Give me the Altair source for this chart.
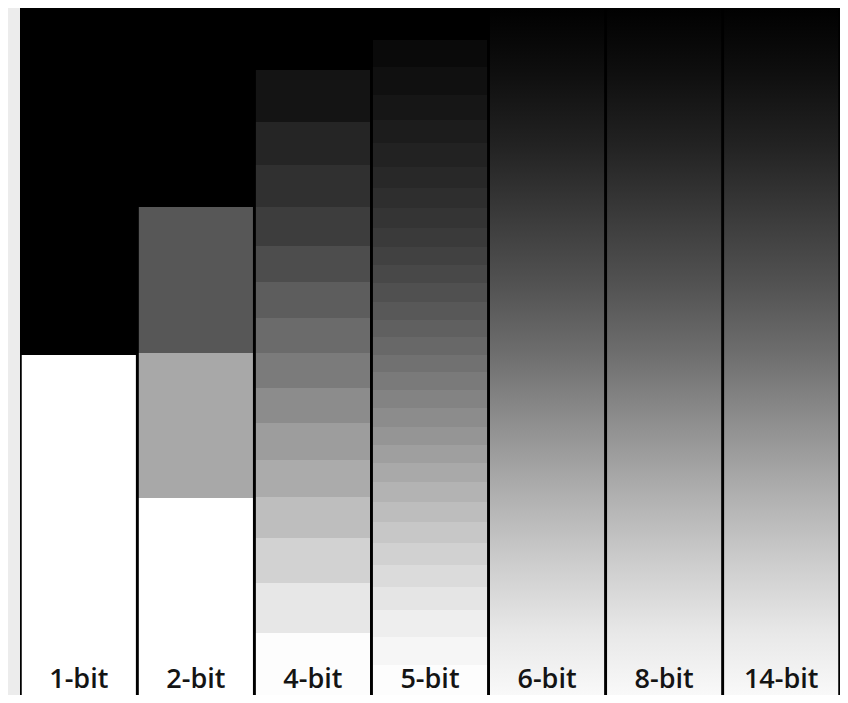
import altair as alt
import pandas as pd

# Column labels (left to right)
COLUMNS = ["1-bit", "2-bit", "4-bit", "5-bit", "6-bit", "8-bit", "14-bit"]

# Vertical extent of the tone ramp (reference pixel rows, top = black, bottom = white)
TOP, BOTTOM = 5, 703

# Quantised columns: band edges (top→bottom) and the grey of each band
BIT1_EDGES = [5, 355, 703]
BIT1_GRAYS = ["#000000", "#ffffff"]

BIT2_EDGES = [5, 207, 353, 498, 703]
BIT2_GRAYS = ["#000000", "#575757", "#a8a8a8", "#ffffff"]

BIT4_EDGES = [5, 70, 122, 165, 207, 246, 282, 318, 353, 388, 423, 460, 497, 538, 583, 633, 703]
BIT4_GRAYS = ["#000000", "#141414", "#252525", "#303030", "#3d3d3d", "#4d4d4d", "#5d5d5d",
              "#6b6b6b", "#7b7b7b", "#8c8c8c", "#9d9d9d", "#ababab", "#bebebe", "#d2d2d2",
              "#e7e7e7", "#fdfdfd"]

BIT5_EDGES = [5, 40, 67, 95, 120, 143, 167, 188, 208, 228, 247, 265, 283, 302, 320, 337, 355,
              372, 390, 408, 427, 445, 463, 482, 502, 522, 543, 565, 587, 610, 637, 665, 703]
BIT5_GRAYS = ["#000000", "#0a0a0a", "#101010", "#161616", "#1c1c1c", "#222222", "#282828",
              "#2e2e2e", "#343434", "#3a3a3a", "#414141", "#484848", "#505050", "#585858",
              "#606060", "#686868", "#717171", "#7a7a7a", "#838383", "#8c8c8c", "#959595",
              "#9f9f9f", "#a9a9a9", "#b3b3b3", "#bdbdbd", "#c7c7c7", "#d1d1d1", "#dbdbdb",
              "#e5e5e5", "#eeeeee", "#f6f6f6", "#fdfdfd"]

# Near-continuous columns, drawn as a smooth ramp
SMOOTH_COLUMNS = ["6-bit", "8-bit", "14-bit"]
RAMP_OFFSETS = [0.0, 0.1, 0.2, 0.3, 0.4, 0.5, 0.6, 0.7, 0.8, 0.9, 1.0]
RAMP_GRAYS = ["#000000", "#0f0f0f", "#222222", "#3a3a3a", "#525252", "#6e6e6e",
              "#8f8f8f", "#afafaf", "#cdcdcd", "#e8e8e8", "#fbfbfb"]

LABEL_BASELINE = 688

rows = []
for name, edges, grays in [("1-bit", BIT1_EDGES, BIT1_GRAYS),
                           ("2-bit", BIT2_EDGES, BIT2_GRAYS),
                           ("4-bit", BIT4_EDGES, BIT4_GRAYS),
                           ("5-bit", BIT5_EDGES, BIT5_GRAYS)]:
    for i, g in enumerate(grays):
        rows.append({"bits": name, "y0": edges[i], "y1": edges[i + 1], "gray": g})
bands = pd.DataFrame(rows)

smooth = pd.DataFrame({"bits": SMOOTH_COLUMNS,
                       "y0": [TOP] * len(SMOOTH_COLUMNS),
                       "y1": [BOTTOM] * len(SMOOTH_COLUMNS)})

labels = pd.DataFrame({"bits": COLUMNS, "label": COLUMNS,
                       "y": [LABEL_BASELINE] * len(COLUMNS)})

xscale = alt.Scale(domain=COLUMNS, paddingInner=0.025, paddingOuter=0.015)
yscale = alt.Scale(domain=[8, 695], reverse=True, nice=False, zero=False)

X = alt.X("bits:N", scale=xscale, axis=None)
Y = alt.Y("y0:Q", scale=yscale, axis=None)

band_layer = alt.Chart(bands).mark_rect(clip=True).encode(
    x=X, y=Y, y2="y1:Q", color=alt.Color("gray:N", scale=None)
)

ramp = alt.LinearGradient(
    gradient="linear",
    stops=[alt.GradientStop(offset=o, color=c) for o, c in zip(RAMP_OFFSETS, RAMP_GRAYS)],
    x1=0, x2=0, y1=0, y2=1,
)
smooth_layer = alt.Chart(smooth).mark_rect(clip=True, color=ramp).encode(
    x=X, y=Y, y2="y1:Q"
)

text_layer = alt.Chart(labels).mark_text(
    font="Open Sans", fontSize=27, fontWeight=600, color="#141414",
    baseline="alphabetic", align="center"
).encode(
    x=X, y=alt.Y("y:Q", scale=yscale, axis=None), text="label:N"
)

chart = alt.layer(band_layer, smooth_layer, text_layer).properties(
    width=832, height=687,
    autosize=alt.AutoSizeParams(type="fit", contains="padding"),
    padding={"left": 12, "top": 0, "right": 0, "bottom": 0},
    background="#ececec",
).configure_view(fill="#000000", strokeWidth=0)

chart.save("out.html", embed_options={"renderer": "svg", "actions": False})
